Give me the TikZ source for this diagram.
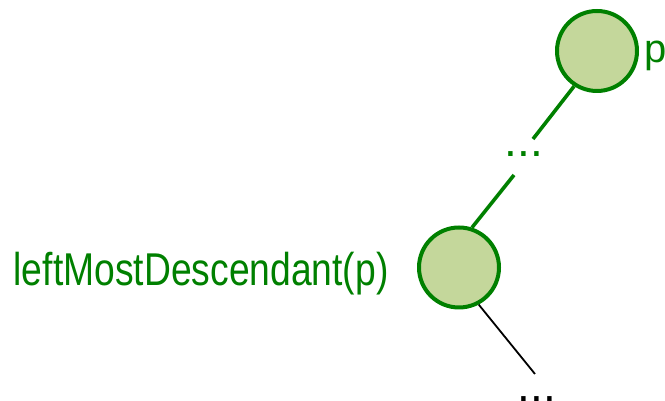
\documentclass[tikz,border=0pt]{standalone}
\usepackage{fontspec}
\setmainfont{Liberation Sans}
\newfontfamily\narrowfont[FakeStretch=0.81]{Liberation Sans}
\definecolor{treegreen}{RGB}{0,128,0}
\definecolor{treefill}{RGB}{196,215,155}
\begin{document}
\begin{tikzpicture}[x=1pt,y=1pt,
  treenode/.style={circle,draw=treegreen,fill=treefill,line width=4pt,minimum size=80pt,inner sep=0pt},
  greenlink/.style={draw=treegreen,line width=3.6pt},
  blacklink/.style={draw=black,line width=1.8pt},
  lbl/.style={inner sep=0pt,text=treegreen}]
\useasboundingbox (0,0) rectangle (665,401);
\node[treenode] (p) at (597,350) {};
\node[treenode] (L) at (459,133.5) {};
\node[lbl,anchor=base west,font=\fontsize{40}{40}\selectfont] (plabel) at (644.5,338) {p};
\node[lbl,anchor=base west,font=\narrowfont\fontsize{46}{46}\selectfont] (Llabel) at (13.5,115.3) {leftMostDescendant(p)};
\node[lbl,anchor=base west,font=\fontsize{46}{46}\selectfont] (gdots) at (504.7,244) {...};
\node[inner sep=0pt,anchor=base west,font=\fontsize{46}{46}\selectfont] (bdots) at (517.7,-1) {...};
\coordinate (g1) at (533,262);
\coordinate (g2) at (514,226);
\coordinate (b1) at (535,27);
\draw[greenlink] (p.237) -- (g1);
\draw[greenlink] (g2) -- (L.72);
\draw[blacklink] (L.-62.5) -- (b1);
\end{tikzpicture}
\end{document}
